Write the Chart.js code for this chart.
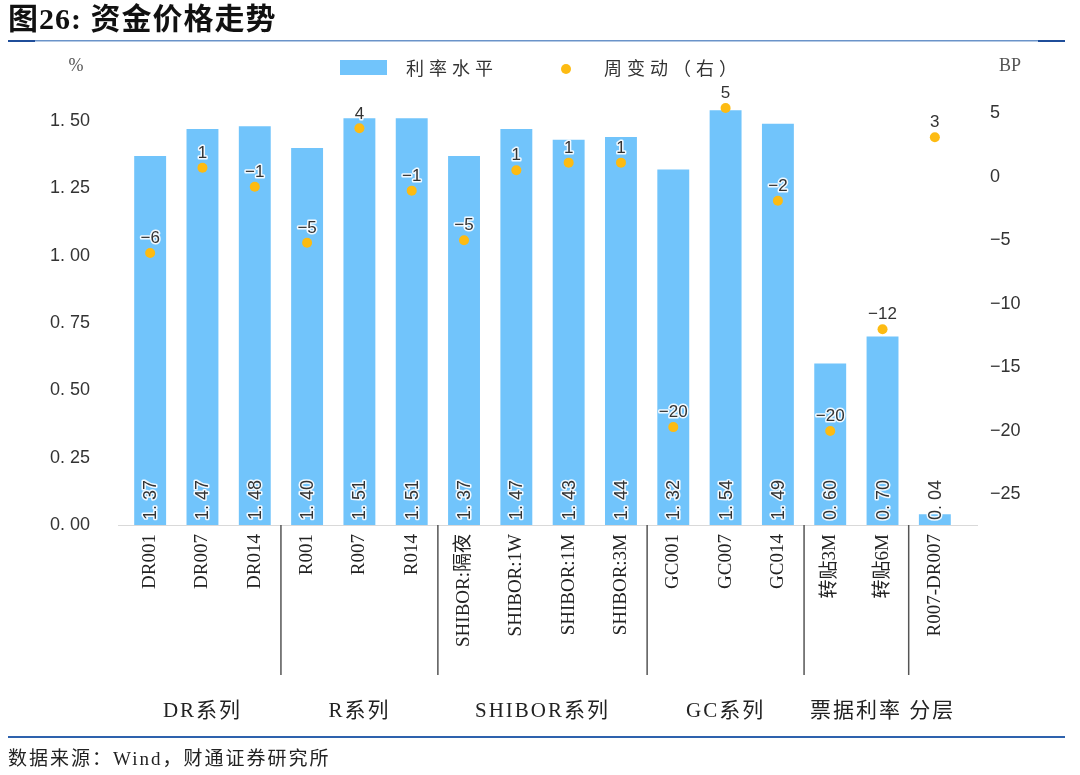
<!DOCTYPE html>
<html>
<head>
<meta charset="utf-8">
<script src="https://cdn.jsdelivr.net/npm/chart.js@4.4.1/dist/chart.umd.min.js"></script>
<style>
  body { margin: 0; background: #ffffff; }
  #wrap { width: 1080px; height: 775px; }
</style>
</head>
<body>
<div id="wrap"><canvas id="myChart" width="1080" height="775"></canvas></div>
<script>
// 数据
var categories = ['DR001', 'DR007', 'DR014', 'R001', 'R007', 'R014',
    'SHIBOR:隔夜', 'SHIBOR:1W', 'SHIBOR:1M', 'SHIBOR:3M',
    'GC001', 'GC007', 'GC014', '转贴3M', '转贴6M', 'R007-DR007'];
var rateLevel = [1.37, 1.47, 1.48, 1.40, 1.51, 1.51, 1.37, 1.47, 1.43, 1.44, 1.32, 1.54, 1.49, 0.60, 0.70, 0.04];
var weeklyChange = [-6, 0.7, -0.8, -5.2, 3.8, -1.1, -5, 0.5, 1.1, 1.1, -19.7, 5.4, -1.9, -20, -12, 3.1];
var leftTicks = [0, 0.25, 0.5, 0.75, 1.0, 1.25, 1.5];
var rightTicks = [-25, -20, -15, -10, -5, 0, 5];
var groups = [
    { name: 'DR系列', from: 0, to: 2 },
    { name: 'R系列', from: 3, to: 5 },
    { name: 'SHIBOR系列', from: 6, to: 9 },
    { name: 'GC系列', from: 10, to: 12 },
    { name: '票据利率 分层', from: 13, to: 15 }
];
var separators = [3, 6, 10, 13, 15];

var BLUE = '#71C4FB';
var GOLD = '#FDBB12';
var SANS = '"Liberation Sans", Arial, sans-serif';
var SERIF = '"Liberation Serif", "Noto Sans CJK SC", serif';
var CJK = '"Noto Sans CJK SC", sans-serif';

function fmtDec(v) {
    return v.toFixed(2).replace('.', '. ');
}
function fmtInt(v) {
    var r = Math.round(v);
    return r < 0 ? '\u2212' + Math.abs(r) : String(r);
}

var decorPlugin = {
    id: 'decor',
    beforeDatasetsDraw: function(chart) {
        // axis line a bit wider than the plot, like the original
        var ctx = chart.ctx;
        var area = chart.chartArea;
        ctx.save();
        ctx.fillStyle = '#D9D9D9';
        ctx.fillRect(118, area.bottom, 860, 1);
        ctx.restore();
    },
    afterDatasetsDraw: function(chart) {
        var ctx = chart.ctx;
        var yScale = chart.scales.y;
        var base = yScale.getPixelForValue(0);

        // bar value labels (rotated)
        var barMeta = chart.getDatasetMeta(0);
        ctx.save();
        ctx.font = '18px ' + SANS;
        ctx.textAlign = 'left';
        ctx.textBaseline = 'middle';
        ctx.lineJoin = 'round';
        barMeta.data.forEach(function(bar, i) {
            ctx.save();
            ctx.translate(bar.x, base - 5);
            ctx.rotate(-Math.PI / 2);
            var t = fmtDec(rateLevel[i]);
            ctx.lineWidth = 3;
            ctx.strokeStyle = 'rgba(255,255,255,0.9)';
            ctx.strokeText(t, 0, 1);
            ctx.fillStyle = '#333333';
            ctx.fillText(t, 0, 1);
            ctx.restore();
        });
        ctx.restore();

        // point labels
        var ptMeta = chart.getDatasetMeta(1);
        ctx.save();
        ctx.font = '17px ' + SANS;
        ctx.textAlign = 'center';
        ctx.textBaseline = 'bottom';
        ctx.lineJoin = 'round';
        ptMeta.data.forEach(function(pt, i) {
            var t = fmtInt(weeklyChange[i]);
            ctx.lineWidth = 3;
            ctx.strokeStyle = 'rgba(255,255,255,0.9)';
            ctx.strokeText(t, pt.x, pt.y - 6);
            ctx.fillStyle = '#333333';
            ctx.fillText(t, pt.x, pt.y - 6);
        });
        ctx.restore();
    },
    afterDraw: function(chart) {
        var ctx = chart.ctx;
        var x = chart.scales.x;
        var area = chart.chartArea;

        ctx.save();
        // title
        ctx.fillStyle = '#111111';
        ctx.font = 'bold 30px ' + SERIF;
        ctx.textBaseline = 'middle';
        ctx.textAlign = 'left';
        ctx.letterSpacing = '1px';
        ctx.fillText('图26: 资金价格走势', 8, 21);

        // rules
        ctx.fillStyle = '#6A93C9';
        ctx.fillRect(8, 40, 1057, 1.5);
        ctx.fillStyle = '#1F4E9A';
        ctx.fillRect(8, 40, 27, 2);
        ctx.fillRect(1038, 40, 27, 2);
        ctx.fillStyle = '#2E62AD';
        ctx.fillRect(8, 736, 1057, 2);

        // source
        ctx.fillStyle = '#222222';
        ctx.font = '19px ' + SERIF;
        ctx.letterSpacing = '2px';
        ctx.fillText('数据来源：Wind，财通证券研究所', 8, 760);
        ctx.letterSpacing = '0px';

        // axis titles
        ctx.fillStyle = '#555555';
        ctx.font = '18px ' + SERIF;
        ctx.textAlign = 'center';
        ctx.fillText('%', 76, 66);
        ctx.fillText('BP', 1010, 66);

        // legend
        ctx.fillStyle = BLUE;
        ctx.fillRect(340, 60, 47, 15);
        ctx.beginPath();
        ctx.arc(566, 69, 5, 0, Math.PI * 2);
        ctx.fillStyle = GOLD;
        ctx.fill();
        ctx.fillStyle = '#333333';
        ctx.font = '18px ' + CJK;
        ctx.textAlign = 'left';
        ctx.letterSpacing = '5px';
        ctx.fillText('利率水平', 406, 68);
        ctx.fillText('周变动（右）', 604, 68);
        ctx.letterSpacing = '0px';

        // group separators
        ctx.strokeStyle = '#555555';
        ctx.lineWidth = 1.5;
        separators.forEach(function(i) {
            var px = (x.getPixelForValue(i - 1) + x.getPixelForValue(i)) / 2;
            ctx.beginPath();
            ctx.moveTo(px, area.bottom);
            ctx.lineTo(px, area.bottom + 150);
            ctx.stroke();
        });

        // group labels
        ctx.fillStyle = '#222222';
        ctx.font = '21px ' + SERIF;
        ctx.textAlign = 'center';
        ctx.letterSpacing = '2px';
        groups.forEach(function(g) {
            var cx = (x.getPixelForValue(g.from) + x.getPixelForValue(g.to)) / 2;
            ctx.fillText(g.name, cx, 711);
        });
        ctx.restore();
    }
};

var ctx = document.getElementById('myChart').getContext('2d');
var myChart = new Chart(ctx, {
    type: 'bar',
    data: {
        labels: categories,
        datasets: [{
            label: '利率水平',
            data: rateLevel,
            backgroundColor: BLUE,
            borderWidth: 0,
            barPercentage: 0.61,
            categoryPercentage: 1,
            yAxisID: 'y',
            order: 2
        }, {
            type: 'line',
            label: '周变动（右）',
            data: weeklyChange,
            showLine: false,
            pointRadius: 5,
            pointBackgroundColor: GOLD,
            pointBorderWidth: 0,
            yAxisID: 'y1',
            order: 1
        }]
    },
    options: {
        responsive: false,
        animation: false,
        devicePixelRatio: 1,
        layout: { padding: { left: 0, right: 0, top: 94, bottom: 0 } },
        plugins: {
            legend: { display: false },
            tooltip: { enabled: false }
        },
        scales: {
            x: {
                grid: { display: false, drawTicks: false },
                border: { display: true, color: '#D9D9D9', width: 1 },
                ticks: {
                    autoSkip: false,
                    maxRotation: 90,
                    minRotation: 90,
                    padding: 9,
                    color: '#222222',
                    font: { family: '"Liberation Serif", "Noto Sans CJK SC", serif', size: 19 }
                },
                afterFit: function(s) { s.height = 250; }
            },
            y: {
                position: 'left',
                min: 0,
                max: 1.6,
                grid: { display: false, drawTicks: false },
                border: { display: false },
                afterBuildTicks: function(s) {
                    s.ticks = leftTicks.map(function(v) { return { value: v }; });
                },
                ticks: {
                    padding: 34,
                    color: '#333333',
                    font: { family: SANS, size: 18 },
                    callback: function(v) { return fmtDec(v); }
                },
                afterFit: function(s) { s.width = 124; }
            },
            y1: {
                position: 'right',
                min: -27.4,
                max: 6.5,
                grid: { display: false, drawTicks: false },
                border: { display: false },
                afterBuildTicks: function(s) {
                    s.ticks = rightTicks.map(function(v) { return { value: v }; });
                },
                ticks: {
                    padding: 29,
                    color: '#333333',
                    font: { family: SANS, size: 18 },
                    callback: function(v) { return fmtInt(v); }
                },
                afterFit: function(s) { s.width = 119; }
            }
        }
    },
    plugins: [decorPlugin]
});
</script>
</body>
</html>
